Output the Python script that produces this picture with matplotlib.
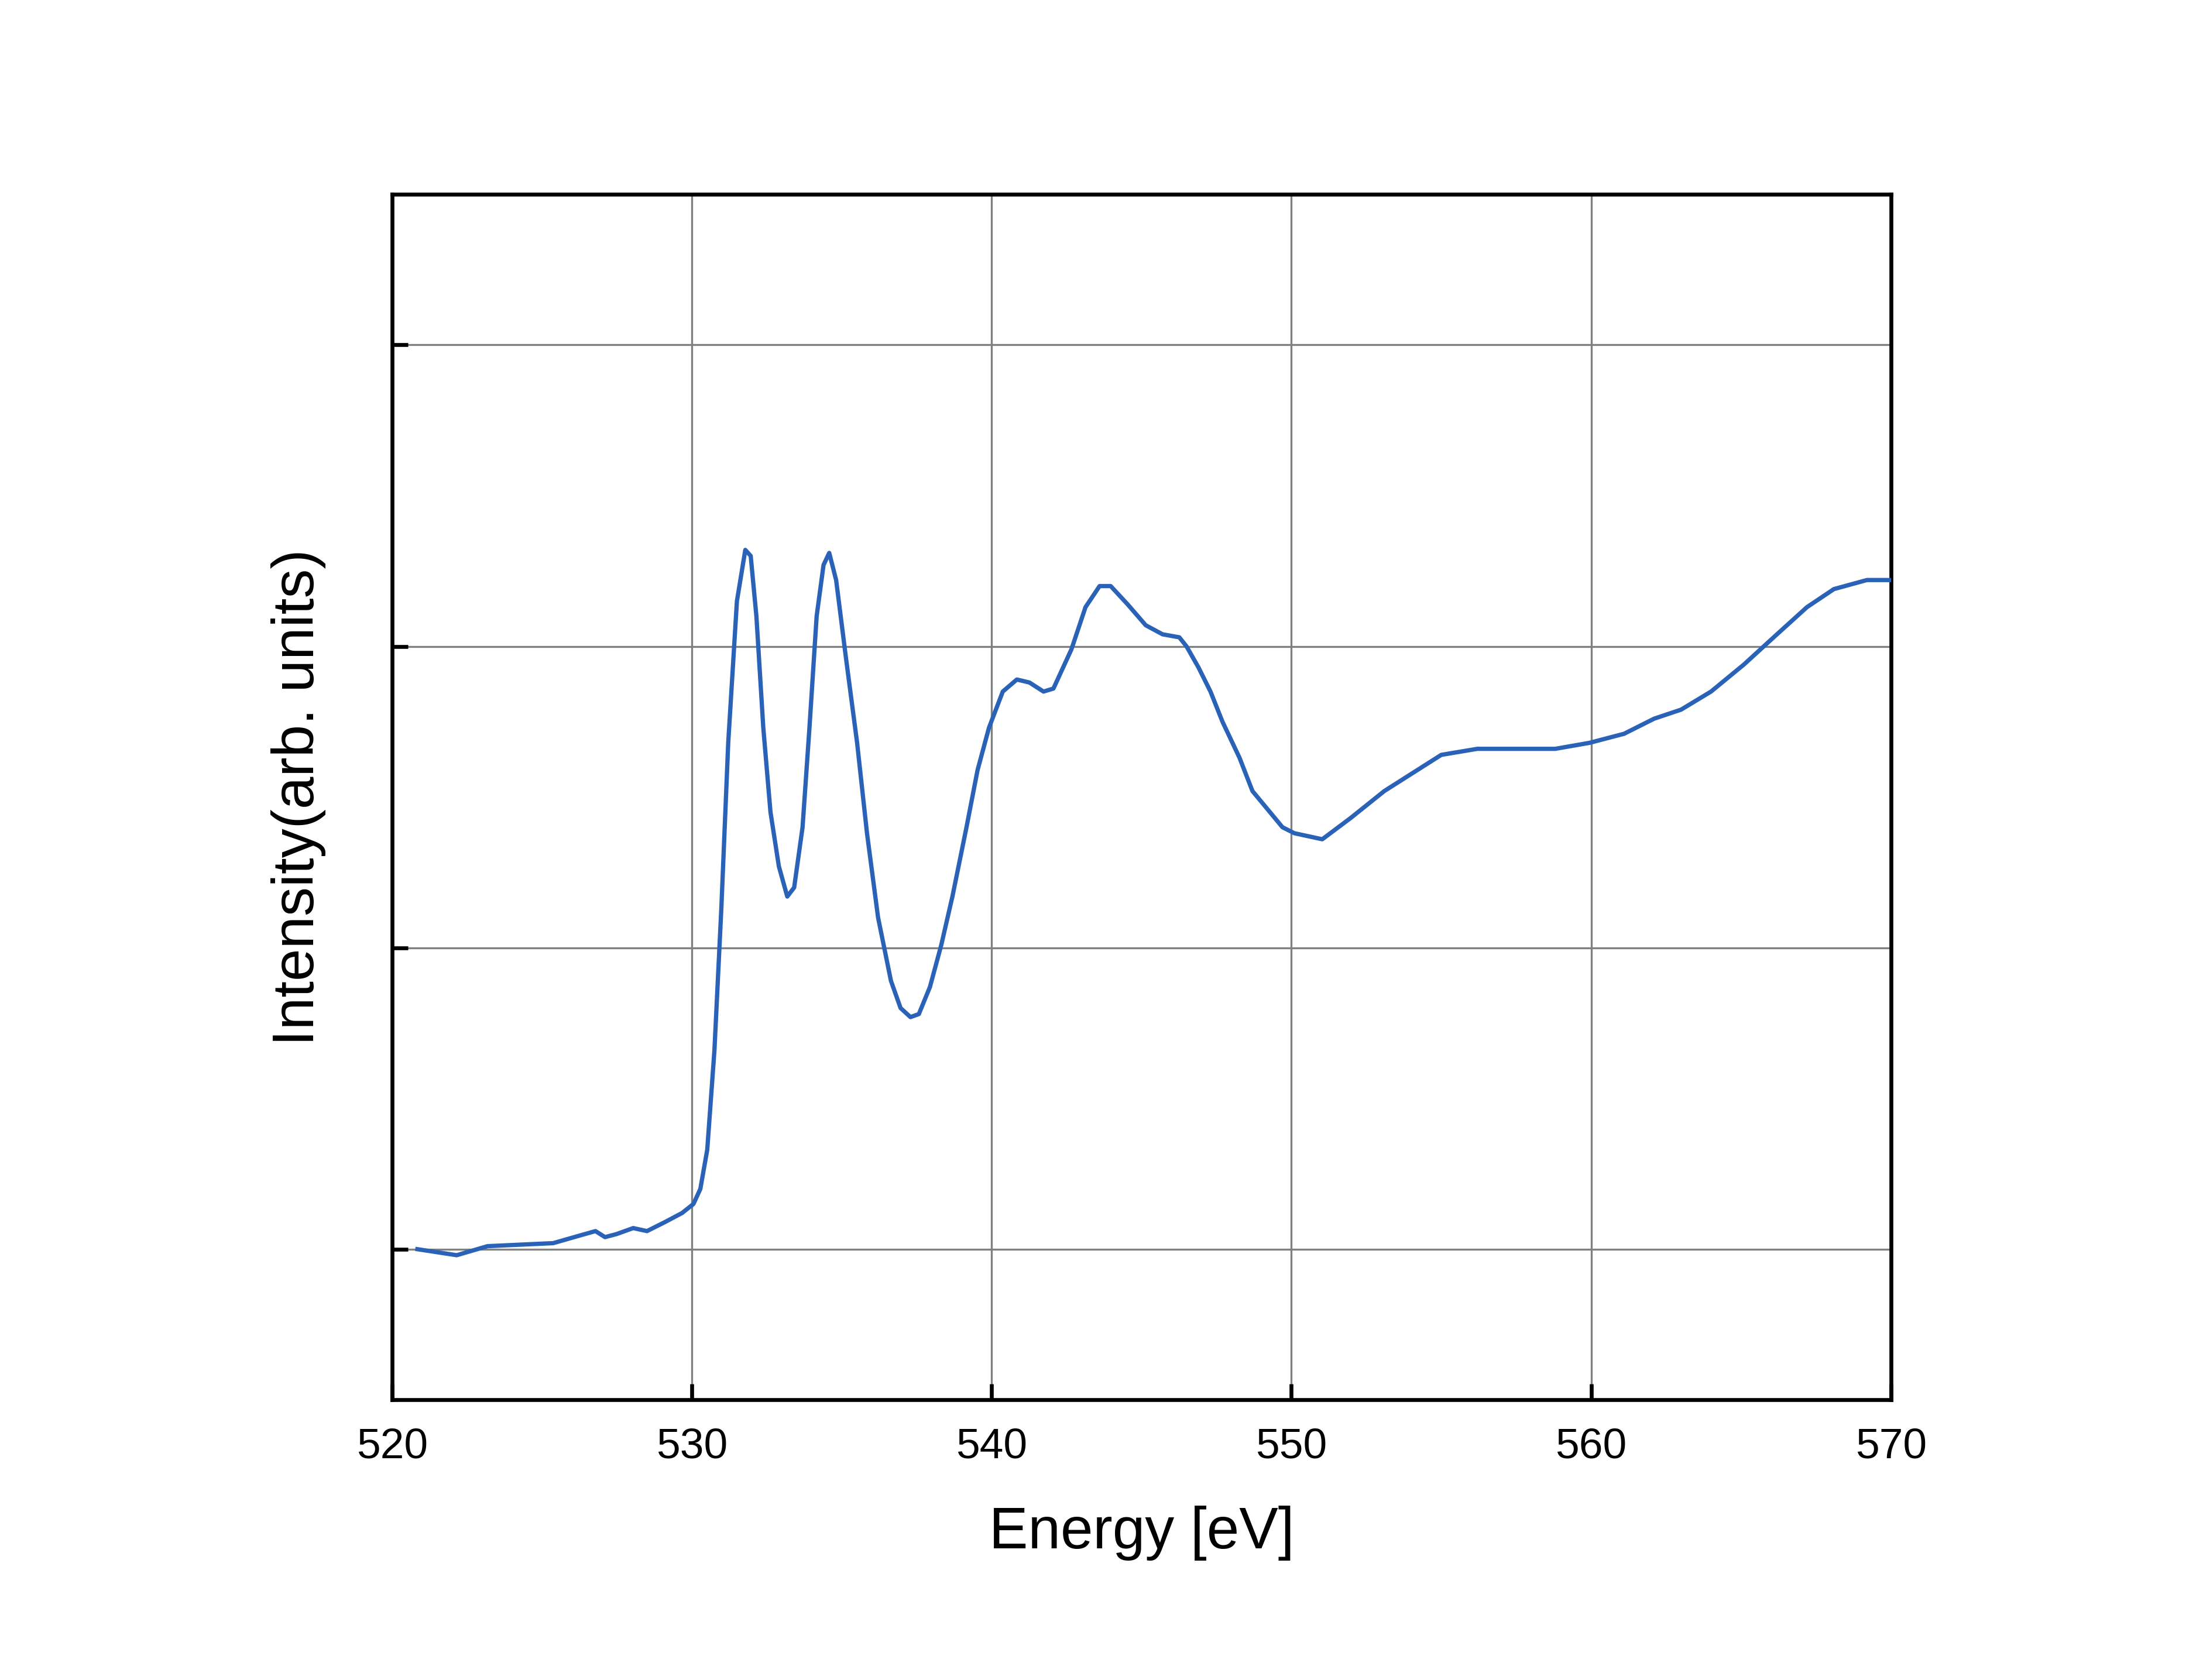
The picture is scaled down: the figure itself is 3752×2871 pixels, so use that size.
import numpy as np
import matplotlib
matplotlib.use("Agg")
import matplotlib.pyplot as plt

plt.rcParams['font.family'] = ['Liberation Sans', 'DejaVu Sans']

energy = [520.84, 522.15, 523.18, 525.37, 526.07, 526.78, 527.1, 527.48, 528.04, 528.5,
          529.1, 529.67, 530.05, 530.28, 530.51, 530.75, 530.98, 531.21, 531.5, 531.78,
          531.96, 532.15, 532.38, 532.62, 532.9, 533.18, 533.41, 533.69, 533.92, 534.16,
          534.39, 534.58, 534.81, 535.14, 535.51, 535.84, 536.21, 536.64, 536.96, 537.29,
          537.57, 537.94, 538.32, 538.69, 539.16, 539.53, 539.91, 540.37, 540.84, 541.26,
          541.73, 542.06, 542.66, 543.13, 543.6, 543.97, 544.53, 545.14, 545.7, 546.26,
          546.5, 546.9, 547.3, 547.7, 548.27, 548.7, 549.2, 549.7, 550.1, 551.03,
          551.97, 553.1, 555.0, 556.2, 557.1, 558.8, 559.95, 561.1, 562.1, 563.0,
          564.0, 565.1, 566.2, 567.2, 568.1, 569.2, 570.0]
intensity = [0.0, -0.02, 0.01, 0.02, 0.04, 0.06, 0.04, 0.05, 0.07, 0.06,
             0.09, 0.12, 0.15, 0.2, 0.33, 0.66, 1.13, 1.68, 2.15, 2.32,
             2.30, 2.10, 1.73, 1.45, 1.27, 1.17, 1.20, 1.40, 1.73, 2.10,
             2.27, 2.31, 2.22, 1.96, 1.68, 1.38, 1.10, 0.89, 0.80, 0.77,
             0.78, 0.87, 1.01, 1.17, 1.40, 1.59, 1.73, 1.85, 1.89, 1.88,
             1.85, 1.86, 1.99, 2.13, 2.20, 2.20, 2.14, 2.07, 2.04, 2.03,
             2.0, 1.93, 1.85, 1.75, 1.63, 1.52, 1.46, 1.40, 1.38, 1.36,
             1.43, 1.52, 1.64, 1.66, 1.66, 1.66, 1.68, 1.71, 1.76, 1.79,
             1.85, 1.94, 2.04, 2.13, 2.19, 2.22, 2.22]

fig = plt.figure(figsize=(15.68, 12.0), dpi=239.3)
ax = fig.add_axes([0.1786, 0.1667, 0.6824, 0.7175])
ax.plot(energy, intensity, color='#2a62b8', lw=2.2, zorder=3)

ax.set_xlim(520, 570)
ax.set_ylim(-0.5, 3.5)
ax.set_xticks(np.arange(520, 571, 10))
ax.set_yticks([0, 1, 2, 3])
ax.set_yticklabels([])
ax.grid(True, color='#808080', lw=1.0)
ax.tick_params(direction='in', length=8, width=2, labelsize=22, pad=14)
for s in ax.spines.values():
    s.set_linewidth(2)
ax.set_xlabel('Energy [eV]', fontsize=30, labelpad=20)
ax.set_ylabel('Intensity(arb. units)', fontsize=30, labelpad=20)

fig.savefig('out.png', dpi=239.3)
